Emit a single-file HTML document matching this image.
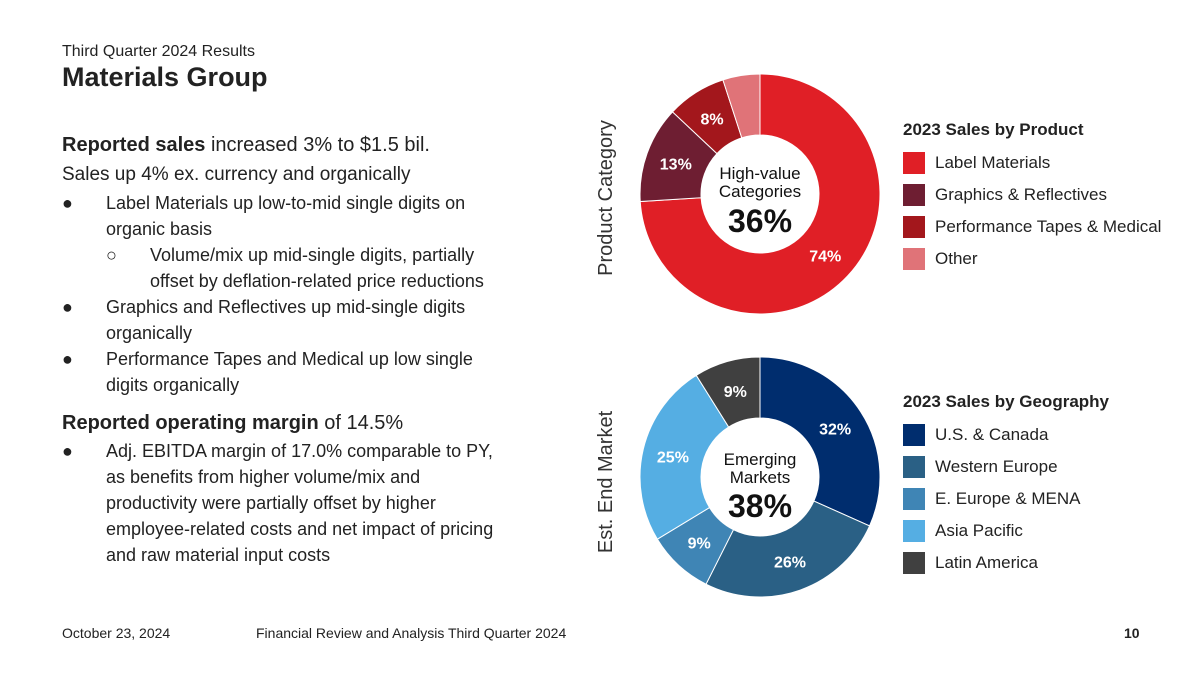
<!DOCTYPE html>
<html><head><meta charset="utf-8"><style>
body{margin:0;width:1200px;height:675px;background:#fff;font-family:"Liberation Sans",sans-serif;color:#222;position:relative;overflow:hidden}
.a{position:absolute;white-space:nowrap}
.t{font-size:18px;line-height:26px;position:relative}
.b{position:absolute;left:0}
.b2{position:absolute;left:44px}
.leg{position:absolute;left:903px;font-size:17px}
.leg div{height:32px;display:flex;align-items:center}
.leg span.sw{display:inline-block;width:22px;height:22px;margin-right:10px}
</style></head><body>
<div class="a" style="left:62px;top:43px;font-size:16px">Third Quarter 2024 Results</div>
<div class="a" style="left:62px;top:62px;font-size:27px;font-weight:bold">Materials Group</div>
<div class="a" style="left:62px;top:130px">
<div class="t" style="font-size:20px;line-height:30px"><b>Reported sales</b> increased 3% to $1.5 bil.</div>
<div class="t" style="font-size:19px;line-height:30px">Sales up 4% ex. currency and organically</div>
<div class="t" style="padding-left:44px"><span class="b">●</span>Label Materials up low-to-mid single digits on</div>
<div class="t" style="padding-left:44px">organic basis</div>
<div class="t" style="padding-left:88px"><span class="b2">○</span>Volume/mix up mid-single digits, partially</div>
<div class="t" style="padding-left:88px">offset by deflation-related price reductions</div>
<div class="t" style="padding-left:44px"><span class="b">●</span>Graphics and Reflectives up mid-single digits</div>
<div class="t" style="padding-left:44px">organically</div>
<div class="t" style="padding-left:44px"><span class="b">●</span>Performance Tapes and Medical up low single</div>
<div class="t" style="padding-left:44px">digits organically</div>
<div class="t" style="font-size:20px;line-height:30px;margin-top:10px"><b>Reported operating margin</b> of 14.5%</div>
<div class="t" style="padding-left:44px"><span class="b">●</span>Adj. EBITDA margin of 17.0% comparable to PY,</div>
<div class="t" style="padding-left:44px">as benefits from higher volume/mix and</div>
<div class="t" style="padding-left:44px">productivity were partially offset by higher</div>
<div class="t" style="padding-left:44px">employee-related costs and net impact of pricing</div>
<div class="t" style="padding-left:44px">and raw material input costs</div>
</div>
<svg id="ch" width="1200" height="675" style="position:absolute;left:0;top:0">
<text transform="translate(612,198) rotate(-90)" text-anchor="middle" font-size="20" fill="#333">Product Category</text>
<text transform="translate(612,482) rotate(-90)" text-anchor="middle" font-size="20" fill="#333">Est. End Market</text>
</svg>
<div class="a" style="left:903px;top:120px;font-size:17px;font-weight:bold">2023 Sales by Product</div>
<div class="leg" style="top:147px">
<div><span class="sw" style="background:#e01f26"></span>Label Materials</div>
<div><span class="sw" style="background:#6e1e32"></span>Graphics &amp; Reflectives</div>
<div><span class="sw" style="background:#a3171c"></span>Performance Tapes &amp; Medical</div>
<div><span class="sw" style="background:#e07378"></span>Other</div>
</div>
<div class="a" style="left:903px;top:392px;font-size:17px;font-weight:bold">2023 Sales by Geography</div>
<div class="leg" style="top:419px">
<div><span class="sw" style="background:#002d6e"></span>U.S. &amp; Canada</div>
<div><span class="sw" style="background:#2a6085"></span>Western Europe</div>
<div><span class="sw" style="background:#3f85b5"></span>E. Europe &amp; MENA</div>
<div><span class="sw" style="background:#55aee3"></span>Asia Pacific</div>
<div><span class="sw" style="background:#404040"></span>Latin America</div>
</div>
<div class="a" style="left:62px;top:625px;font-size:14px">October 23, 2024</div>
<div class="a" style="left:256px;top:625px;font-size:14px">Financial Review and Analysis Third Quarter 2024</div>
<div class="a" style="left:1124px;top:625px;font-size:14px;font-weight:bold">10</div>
<script>
const productCategories=["Label Materials","Graphics & Reflectives","Performance Tapes & Medical","Other"];
const productValues=[74,13,8,5];
const productLabels=["74%","13%","8%",""];
const geoCategories=["U.S. & Canada","Western Europe","E. Europe & MENA","Asia Pacific","Latin America"];
const geoValues=[32,26,9,25,9];
const geoLabels=["32%","26%","9%","25%","9%"];
const productColors=["#e01f26","#6e1e32","#a3171c","#e07378"];
const geoColors=["#002d6e","#2a6085","#3f85b5","#55aee3","#404040"];
const svg=document.getElementById('ch');const NS="http://www.w3.org/2000/svg";
function donut(vals,labels,cols,cx,cy,R,r,name,center){
 const tot=vals.reduce((a,b)=>a+b,0);let a0=0;
 vals.forEach((v,i)=>{
  const a1=a0+v/tot*2*Math.PI;
  const p=(a,rad)=>[cx+rad*Math.sin(a),cy-rad*Math.cos(a)];
  const [x1,y1]=p(a0,R),[x2,y2]=p(a1,R),[x3,y3]=p(a1,r),[x4,y4]=p(a0,r);
  const lg=(a1-a0)>Math.PI?1:0;
  const path=document.createElementNS(NS,'path');
  path.setAttribute('d',`M${x1},${y1}A${R},${R} 0 ${lg} 1 ${x2},${y2}L${x3},${y3}A${r},${r} 0 ${lg} 0 ${x4},${y4}Z`);
  path.setAttribute('fill',cols[i]);path.setAttribute('stroke','#fff');path.setAttribute('stroke-width','1');
  
  
  svg.appendChild(path);
  if(labels[i]){const am=(a0+a1)/2;const [lx,ly]=p(am,(R+r)/2);
   const t=document.createElementNS(NS,'text');t.setAttribute('x',lx);t.setAttribute('y',ly+6);
   t.setAttribute('text-anchor','middle');t.setAttribute('fill','#fff');t.setAttribute('font-size','16');t.setAttribute('font-weight','bold');
   t.textContent=labels[i];
   
   
   svg.appendChild(t);}
  a0=a1;});
 center.forEach(([txt,dy,fs,fw])=>{const t=document.createElementNS(NS,'text');t.setAttribute('x',cx);t.setAttribute('y',cy+dy);
  t.setAttribute('text-anchor','middle');t.setAttribute('font-size',fs);t.setAttribute('fill','#111');t.setAttribute('font-weight',fw);t.textContent=txt;
  
  
  svg.appendChild(t);});
}
donut(productValues,productLabels,productColors,760,194,120,59,'product-donut',[["High-value",-15,17,"normal"],["Categories",3,17,"normal"],["36%",38,32,"bold"]]);
donut(geoValues,geoLabels,geoColors,760,477,120,59,'geo-donut',[["Emerging",-12,17,"normal"],["Markets",6,17,"normal"],["38%",40,32,"bold"]]);
</script>
</body></html>
